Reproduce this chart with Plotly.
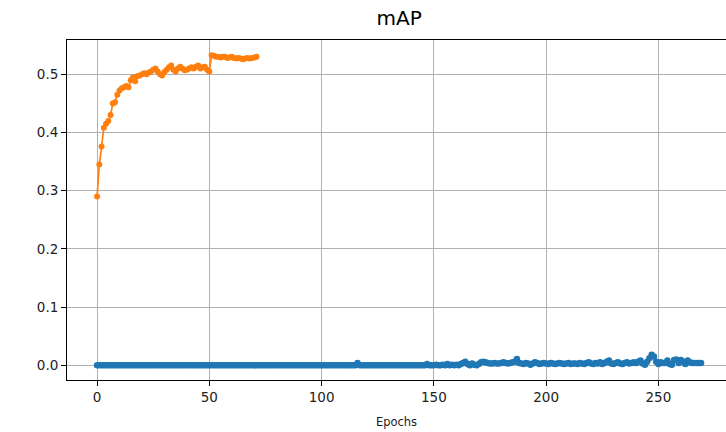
import plotly.graph_objects as go

# Orange series (epochs 0..71)
orange = [
    0.290, 0.345, 0.376, 0.408, 0.415, 0.420, 0.430, 0.450, 0.452, 0.465,
    0.472, 0.476, 0.478, 0.480, 0.478, 0.490, 0.495, 0.488, 0.497, 0.498,
    0.500, 0.502, 0.500, 0.503, 0.505, 0.508, 0.510, 0.505, 0.500, 0.498,
    0.504, 0.508, 0.512, 0.515, 0.508, 0.505, 0.510, 0.513, 0.510, 0.507,
    0.508, 0.510, 0.512, 0.510, 0.513, 0.515, 0.510, 0.512, 0.513, 0.508,
    0.505, 0.533, 0.532, 0.530, 0.530, 0.529, 0.530, 0.530, 0.528, 0.529,
    0.530, 0.528, 0.527, 0.528, 0.527, 0.526, 0.527, 0.528, 0.527, 0.528,
    0.529, 0.530,
]

# Blue series (epochs 0..269)
blue = [
    0.0, 0.0, 0.0, 0.0, 0.0, 0.0, 0.0, 0.0, 0.0, 0.0,
    0.0, 0.0, 0.0, 0.0, 0.0, 0.0, 0.0, 0.0, 0.0, 0.0,
    0.0, 0.0, 0.0, 0.0, 0.0, 0.0, 0.0, 0.0, 0.0, 0.0,
    0.0, 0.0, 0.0, 0.0, 0.0, 0.0, 0.0, 0.0, 0.0, 0.0,
    0.0, 0.0, 0.0, 0.0, 0.0, 0.0, 0.0, 0.0, 0.0, 0.0,
    0.0, 0.0, 0.0, 0.0, 0.0, 0.0, 0.0, 0.0, 0.0, 0.0,
    0.0, 0.0, 0.0, 0.0, 0.0, 0.0, 0.0, 0.0, 0.0, 0.0,
    0.0, 0.0, 0.0, 0.0, 0.0, 0.0, 0.0, 0.0, 0.0, 0.0,
    0.0, 0.0, 0.0, 0.0, 0.0, 0.0, 0.0, 0.0, 0.0, 0.0,
    0.0, 0.0, 0.0, 0.0, 0.0, 0.0, 0.0, 0.0, 0.0, 0.0,
    0.0, 0.0, 0.0, 0.0, 0.0, 0.0, 0.0, 0.0, 0.0, 0.0,
    0.0, 0.0, 0.0, 0.0, 0.0, 0.0, 0.004, 0.0, 0.0, 0.0,
    0.0, 0.0, 0.0, 0.0, 0.0, 0.0, 0.0, 0.0, 0.0, 0.0,
    0.0, 0.0, 0.0, 0.0, 0.0, 0.0, 0.0, 0.0, 0.0, 0.0,
    0.0, 0.0, 0.0, 0.0, 0.0, 0.0, 0.0, 0.002, 0.0, 0.0,
    0.0, 0.001, 0.0, 0.0, 0.001, 0.0, 0.002, 0.0, 0.001, 0.0,
    0.001, 0.0, 0.002, 0.004, 0.006, 0.002, 0.0, 0.003, 0.001, 0.0,
    0.002, 0.005, 0.006, 0.005, 0.004, 0.003, 0.003, 0.004, 0.003, 0.003,
    0.004, 0.005, 0.004, 0.003, 0.004, 0.005, 0.006, 0.011, 0.004, 0.003,
    0.002, 0.004, 0.003, 0.001, 0.003, 0.005, 0.004, 0.002, 0.003, 0.004,
    0.003, 0.002, 0.004, 0.003, 0.002, 0.003, 0.004, 0.003, 0.002, 0.003,
    0.004, 0.002, 0.003, 0.003, 0.002, 0.004, 0.003, 0.002, 0.004, 0.005,
    0.003, 0.002, 0.004, 0.003, 0.005, 0.002, 0.004, 0.006, 0.008, 0.003,
    0.002, 0.004, 0.005, 0.003, 0.002, 0.004, 0.005, 0.003, 0.004, 0.005,
    0.004, 0.006, 0.008, 0.003, 0.001, 0.006, 0.012, 0.018, 0.015, 0.006,
    0.002, 0.005, 0.004, 0.004, 0.008, 0.002, 0.001, 0.009, 0.010, 0.004,
    0.009, 0.006, 0.002, 0.008, 0.005, 0.004, 0.004, 0.004, 0.004, 0.004,
]

x_ticks = [0, 50, 100, 150, 200, 250]
y_ticks = [0.0, 0.1, 0.2, 0.3, 0.4, 0.5]
y_labels = ["0.0", "0.1", "0.2", "0.3", "0.4", "0.5"]

fig = go.Figure()
fig.add_trace(go.Scatter(
    x=list(range(len(blue))), y=blue, mode="lines+markers",
    line=dict(color="#1f77b4", width=2),
    marker=dict(size=6.5, color="#1f77b4"),
    showlegend=False,
))
fig.add_trace(go.Scatter(
    x=list(range(len(orange))), y=orange, mode="lines+markers",
    line=dict(color="#ff7f0e", width=1.7),
    marker=dict(size=6, color="#ff7f0e"),
    showlegend=False,
))

axis_font = dict(family="DejaVu Sans", size=13.5, color="#222222")

fig.update_layout(
    width=726, height=432,
    margin=dict(l=67, r=0, t=40, b=52),
    plot_bgcolor="white", paper_bgcolor="white",
    font=dict(family="DejaVu Sans", color="#222222"),
    title=dict(text="mAP", x=0.504, xanchor="center", xref="paper",
               y=1 - 18 / 432, yref="container", yanchor="middle",
               font=dict(family="DejaVu Sans", size=20, color="#000000")),
    xaxis=dict(
        range=[-13.4, 280.1], tickvals=x_ticks, ticktext=[str(v) for v in x_ticks],
        showgrid=True, gridcolor="#b0b0b0", gridwidth=1,
        showline=True, linecolor="#000000", linewidth=1, mirror=True,
        ticks="outside", ticklen=5, tickcolor="#000000", tickwidth=1,
        zeroline=False, tickfont=axis_font,
        title=dict(text="Epochs", font=dict(family="DejaVu Sans", size=11.5, color="#222222"), standoff=13),
    ),
    yaxis=dict(
        range=[-0.0253, 0.559], tickvals=y_ticks, ticktext=y_labels,
        showgrid=True, gridcolor="#b0b0b0", gridwidth=1,
        showline=True, linecolor="#000000", linewidth=1,
        ticks="outside", ticklen=5, tickcolor="#000000", tickwidth=1,
        zeroline=False, tickfont=axis_font,
    ),
)

fig.write_html("out.html")
